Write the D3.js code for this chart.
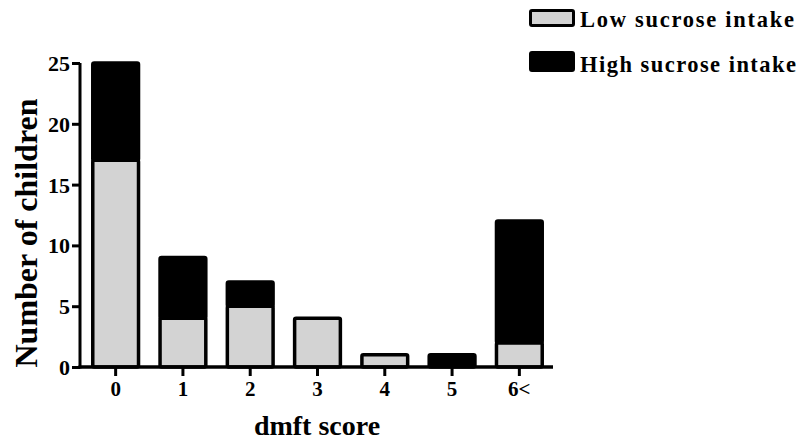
<!DOCTYPE html>
<html>
<head>
<meta charset="utf-8">
<script src="https://cdn.jsdelivr.net/npm/d3@7/dist/d3.min.js"></script>
<style>
  html, body { margin: 0; padding: 0; background: #fff; }
  svg { display: block; }
  text { font-family: "Liberation Serif", "Times New Roman", serif; font-weight: bold; fill: #000; }
</style>
</head>
<body>
<svg id="chart" width="803" height="444"></svg>
<script>
// dmft score categories and number of children per intake group
const categories = ["0", "1", "2", "3", "4", "5", "6<"];
const lowIntake  = [17, 4, 5, 4, 1, 0, 2];
const highIntake = [8, 5, 2, 0, 0, 1, 10];
const yTicks = [0, 5, 10, 15, 20, 25];
const seriesNames = ["Low sucrose intake", "High sucrose intake"];
const seriesColors = ["#d3d3d3", "#000000"];

const svg = d3.select("#chart");

const x = d3.scaleBand()
  .domain(categories)
  .range([82, 553])
  .paddingInner(0.32)
  .paddingOuter(0.16);

const y = d3.scaleLinear()
  .domain([0, 25])
  .range([367, 63]);

// stacked layout
const rows = categories.map((c, i) => ({ cat: c, low: lowIntake[i], high: highIntake[i] }));
const stack = d3.stack().keys(["low", "high"]);
const layers = stack(rows);

const sw = 3.5;
const g = svg.append("g");

layers.forEach((layer, li) => {
  g.selectAll(null)
    .data(layer.filter(d => d[1] - d[0] > 0))
    .join("rect")
    .attr("x", d => x(d.data.cat))
    .attr("y", d => y(d[1]))
    .attr("width", x.bandwidth())
    .attr("height", d => y(d[0]) - y(d[1]))
    .attr("rx", 1.5)
    .attr("fill", seriesColors[li])
    .attr("stroke", "#000")
    .attr("stroke-width", sw);
});

// y axis
const yAxis = d3.axisLeft(y).tickValues(yTicks).tickSize(8).tickPadding(2);
const ya = svg.append("g").attr("transform", "translate(80,0)").call(yAxis);
ya.select(".domain").attr("stroke-width", 3).attr("d", `M0,${y(0) + 1.5}V${y(25)}`);
ya.selectAll(".tick line").attr("stroke-width", 3);
ya.selectAll(".tick text")
  .attr("font-size", 22)
  .attr("dy", "0.34em");

// x axis
const xAxis = d3.axisBottom(x).tickSize(9).tickPadding(5);
const xa = svg.append("g").attr("transform", `translate(0,${y(0)})`).call(xAxis);
xa.select(".domain").attr("stroke-width", 3.5).attr("d", "M78.5,0H553");
xa.selectAll(".tick line").attr("stroke-width", 3);
xa.selectAll(".tick text")
  .attr("font-size", 21);

// axis titles
svg.append("text")
  .attr("x", 317)
  .attr("y", 435)
  .attr("text-anchor", "middle")
  .attr("font-size", 28)
  .text("dmft score");

svg.append("text")
  .attr("transform", "translate(37,233) rotate(-90)")
  .attr("text-anchor", "middle")
  .attr("font-size", 32)
  .text("Number of children");

// legend
const legend = svg.append("g");
const swatchY = [10.5, 52.5];
const swatchH = [15, 18];
const labelWidth = [214, 216];
seriesNames.forEach((name, i) => {
  legend.append("rect")
    .attr("x", 530.5)
    .attr("y", swatchY[i])
    .attr("width", 43)
    .attr("height", swatchH[i])
    .attr("rx", 1.5)
    .attr("fill", seriesColors[i])
    .attr("stroke", "#000")
    .attr("stroke-width", 3);
  legend.append("text")
    .attr("x", 580)
    .attr("y", i === 0 ? 27 : 72)
    .attr("font-size", 22.5)
    .attr("textLength", labelWidth[i])
    .attr("lengthAdjust", "spacing")
    .text(name);
});
</script>
</body>
</html>
